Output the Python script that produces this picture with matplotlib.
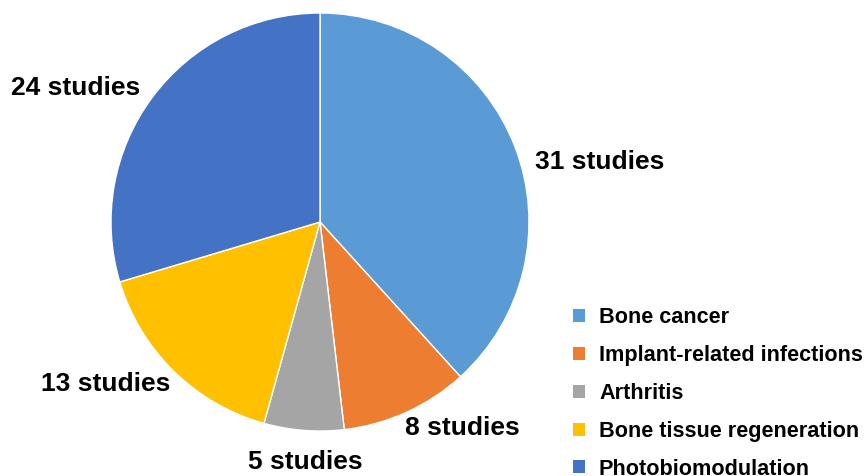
import matplotlib.pyplot as plt
from matplotlib.patches import Patch

categories = ["Bone cancer", "Implant-related infections", "Arthritis",
              "Bone tissue regeneration", "Photobiomodulation"]
studies = [31, 8, 5, 13, 24]
colors = ["#5B9BD5", "#ED7D31", "#A5A5A5", "#FFC000", "#4472C4"]
label_pos = [(600, 162), (462, 428), (305, 462), (106, 384), (76, 88)]

plt.rcParams['font.family'] = ['Liberation Sans', 'DejaVu Sans']

fig = plt.figure(figsize=(8.66, 4.76), dpi=100)
ax = fig.add_axes([0, 0, 1, 1])

H = 476
ax.pie(studies, colors=colors, startangle=90, counterclock=False,
       center=(320, H - 222), radius=209, frame=True,
       wedgeprops=dict(edgecolor='white', linewidth=1))
ax.set_xlim(0, 866)
ax.set_ylim(0, 476)
ax.set_aspect('equal')
ax.axis('off')

for n, (x, y) in zip(studies, label_pos):
    ax.text(x, H - y, f"{n} studies", ha='center', va='center',
            fontsize=19, fontweight='bold', color='black')

handles = [Patch(facecolor=c, edgecolor='none') for c in colors]
leg = ax.legend(handles, categories, loc='upper left',
                bbox_to_anchor=(573, H - 307), bbox_transform=ax.transData,
                frameon=False, borderpad=0, borderaxespad=0,
                handlelength=0.55, handleheight=0.55, handletextpad=0.65,
                labelspacing=0.78, prop=dict(size=15.6, weight='bold'))

fig.savefig("out.png", dpi=100)
